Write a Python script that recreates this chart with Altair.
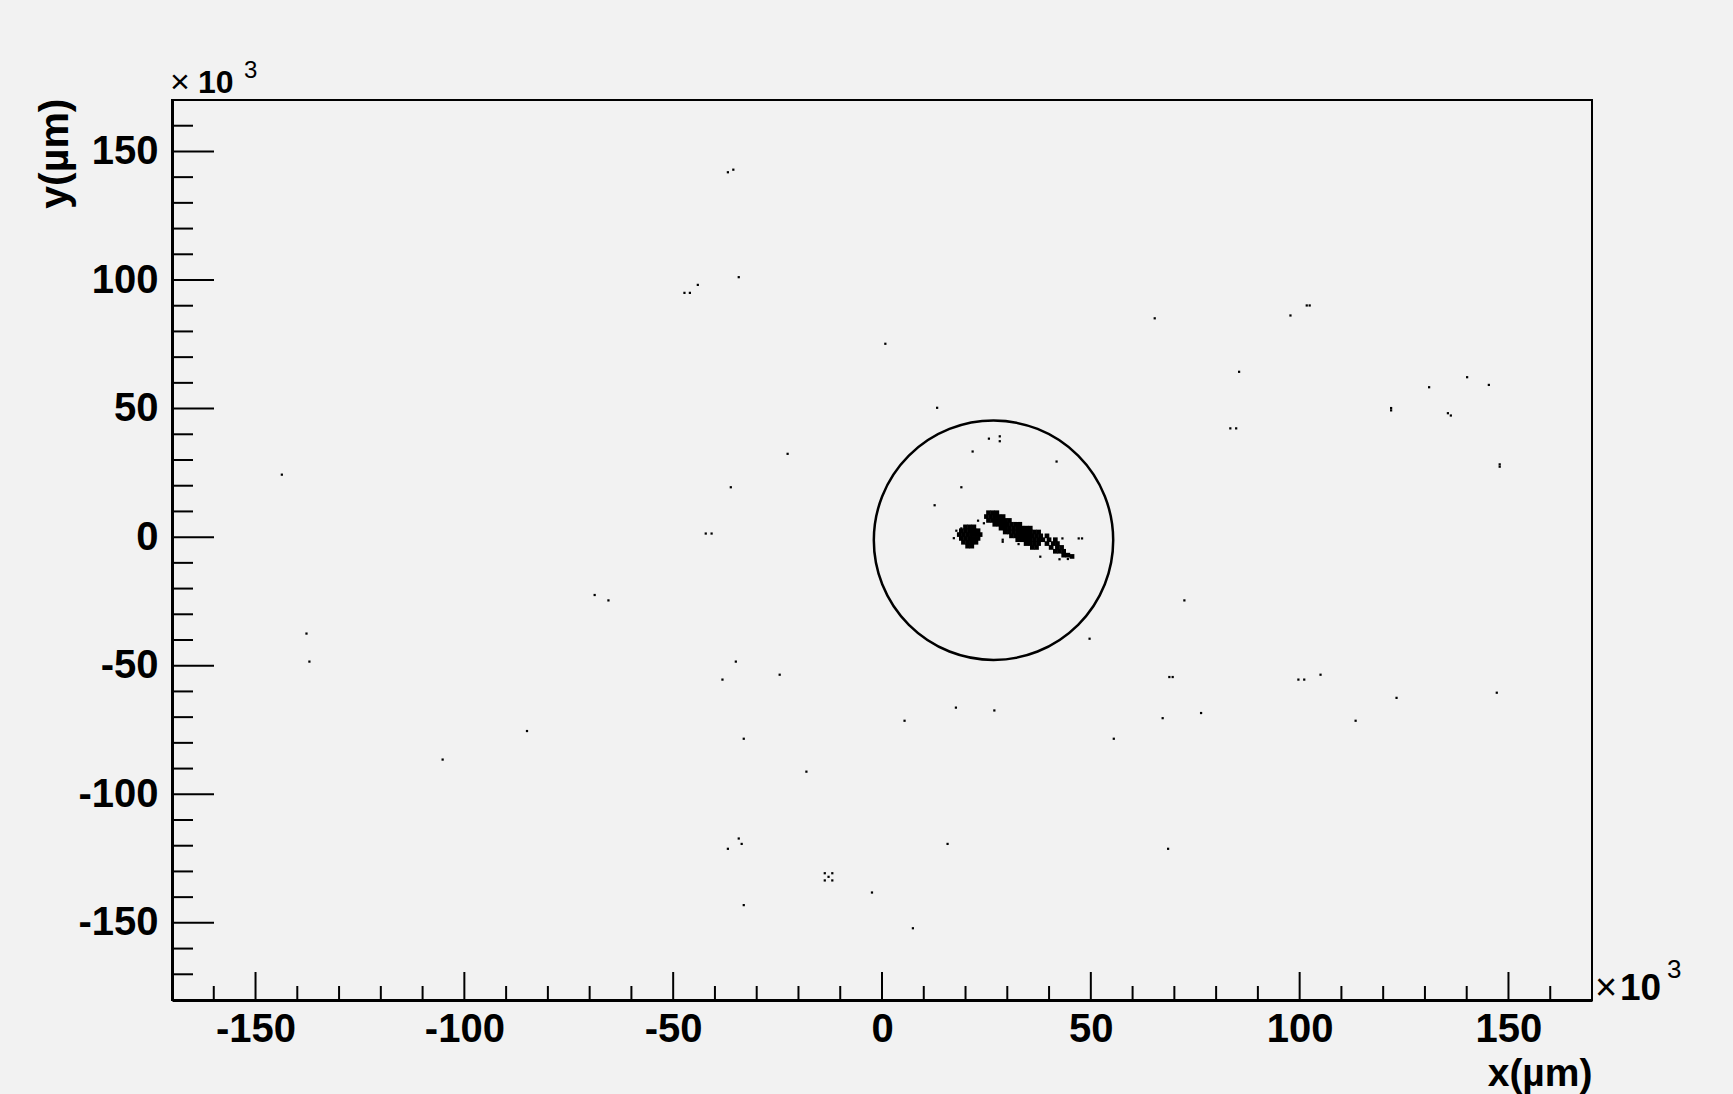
import altair as alt
import pandas as pd

# ---------------- data (units: 10^3 µm) ----------------
x_domain = [-170, 170]
y_domain = [-180, 170]

major_ticks_x = [-150, -100, -50, 0, 50, 100, 150]
minor_ticks_x = [-160, -140, -130, -120, -110, -90, -80, -70, -60, -40, -30, -20, -10,
                 10, 20, 30, 40, 60, 70, 80, 90, 110, 120, 130, 140, 160]
major_ticks_y = [-150, -100, -50, 0, 50, 100, 150]
minor_ticks_y = [-170, -160, -140, -130, -120, -110, -90, -80, -70, -60, -40, -30, -20, -10,
                 10, 20, 30, 40, 60, 70, 80, 90, 110, 120, 130, 140, 160]

# isolated hits
hit_x = [-143.7, -36.9, -35.6, -34.3, -44.1, -47.3, -46.0, 0.8, 13.2, -22.6,
         -36.2, -42.2, -40.8, 25.6, 28.2, 28.2, 21.7, 41.8, 19.0, 12.6,
         65.3, 97.8, 101.7, 102.4, 85.5, 83.4, 84.8, 121.9, 121.9, 131.0,
         135.5, 136.2, 140.1, 145.3, 147.9, 147.9, -137.8, -137.1, -105.2, -85.0,
         -68.8, -65.5, 49.7, -35.0, -38.2, -24.5, 17.7, 26.9, 5.4, -33.1,
         55.5, -18.1, -34.3, -33.6, -36.9, 15.7, -12.8, -13.7, -11.9, -13.7,
         -11.9, -2.4, -33.1, 7.4, 72.4, 68.8, 69.6, 67.2, 76.4, 68.5,
         99.7, 101.1, 105.0, 113.4, 123.2, 147.2,
         23.0, 24.4, 28.9, 28.9, 32.7, 37.9, 42.5, 44.5, 43.2, 47.1,
         47.9, 36.7, 17.8, 19.0, 19.8, 17.2]
hit_y = [24.3, 141.9, 142.9, 101.1, 98.1, 95.0, 95.0, 75.2, 50.3, 32.4,
         19.4, 1.4, 1.4, 38.3, 39.2, 37.3, 33.3, 29.4, 19.4, 12.4,
         85.1, 86.2, 90.1, 90.1, 64.3, 42.3, 42.3, 50.2, 49.3, 58.3,
         48.2, 47.3, 62.2, 59.2, 28.3, 27.4, -37.5, -48.4, -86.5, -75.4,
         -22.5, -24.6, -39.5, -48.4, -55.4, -53.5, -66.3, -67.4, -71.4, -78.4,
         -78.4, -91.2, -117.2, -119.3, -121.2, -119.3, -132.1, -130.7, -130.7, -133.5,
         -133.5, -138.2, -143.1, -152.1, -24.6, -54.4, -54.4, -70.4, -68.4, -121.2,
         -55.4, -55.4, -53.5, -71.4, -62.5, -60.5,
         6.4, 5.4, -1.0, -1.8, -2.7, -7.6, -8.6, -8.5, -0.5, -0.5,
         -0.5, 2.1, 2.5, 3.4, 4.2, -0.4]

# dense cluster (beam spot and track)
cluster_x = [20.0, 21.0, 22.0,
             19.0, 20.0, 21.0, 22.0, 23.0,
             18.5, 19.5, 20.5, 21.5, 22.5, 23.5,
             19.0, 20.0, 21.0, 22.0, 23.0,
             19.5, 20.5, 21.5, 22.5,
             20.5, 21.5,
             25.5, 26.5, 27.5,
             25.0, 26.0, 27.0, 28.0, 29.0,
             25.5, 26.5, 27.5, 28.5, 29.5, 30.5,
             27.0, 28.0, 29.0, 30.0, 31.0, 32.0, 33.0,
             28.5, 29.5, 30.5, 31.5, 32.5, 33.5, 34.5, 35.5,
             29.5, 30.5, 31.5, 32.5, 33.5, 34.5, 35.5, 36.5, 37.5,
             31.0, 32.0, 33.0, 34.0, 35.0, 36.0, 37.0, 38.0, 39.5,
             32.5, 33.5, 34.5, 35.5, 36.5, 37.5, 38.5, 40.0, 41.5,
             34.5, 35.5, 36.5, 37.5, 39.5, 41.0, 42.0,
             36.0, 37.0, 40.5, 42.0, 43.0,
             41.5, 42.5, 43.5,
             43.5, 44.5, 45.5]
cluster_y = [4.0, 4.0, 4.0,
             2.5, 2.5, 2.5, 2.5, 2.5,
             1.0, 1.0, 1.0, 1.0, 1.0, 1.0,
             -0.5, -0.5, -0.5, -0.5, -0.5,
             -2.0, -2.0, -2.0, -2.0,
             -3.5, -3.5,
             9.5, 9.5, 9.5,
             8.0, 8.0, 8.0, 8.0, 8.0,
             6.5, 6.5, 6.5, 6.5, 6.5, 6.5,
             5.0, 5.0, 5.0, 5.0, 5.0, 5.0, 5.0,
             3.5, 3.5, 3.5, 3.5, 3.5, 3.5, 3.5, 3.5,
             2.0, 2.0, 2.0, 2.0, 2.0, 2.0, 2.0, 2.0, 2.0,
             0.5, 0.5, 0.5, 0.5, 0.5, 0.5, 0.5, 0.5, 0.5,
             -1.0, -1.0, -1.0, -1.0, -1.0, -1.0, -1.0, -1.0, -1.0,
             -2.5, -2.5, -2.5, -2.5, -2.5, -2.5, -2.5,
             -4.0, -4.0, -4.0, -4.0, -4.0,
             -5.5, -5.5, -5.5,
             -7.0, -7.0, -7.5]

# region-of-interest circle centre
roi_x = [26.7]
roi_y = [-1.2]

x_title = "x(µm)"
y_title = "y(µm)"

# ---------------- chart ----------------
W, H = 1420, 900
FONT = "Liberation Sans"
xs = alt.Scale(domain=x_domain, nice=False, zero=False)
ys = alt.Scale(domain=y_domain, nice=False, zero=False)
neg_expr = "datum.value < 0 ? '-' + abs(datum.value) : '' + datum.value"

x_axis = alt.Axis(values=major_ticks_x, labelExpr=neg_expr, ticks=False, tickSize=0,
                  domain=True, domainColor="black", domainWidth=3, grid=False,
                  labelFont=FONT, labelFontWeight="bold", labelFontSize=40, labelColor="black",
                  labelPadding=9, labelFlush=False, labelOverlap=False,
                  title=x_title, titleFont=FONT, titleFontWeight="bold", titleFontSize=39,
                  titleColor="black", titleAnchor="end", titleAlign="right",
                  titleBaseline="alphabetic", titleX=W, titleY=85)
y_axis = alt.Axis(values=major_ticks_y, labelExpr=neg_expr, ticks=False, tickSize=0,
                  domain=True, domainColor="black", domainWidth=3, grid=False,
                  labelFont=FONT, labelFontWeight="bold", labelFontSize=40, labelColor="black",
                  labelPadding=14, labelFlush=False, labelOverlap=False,
                  title=y_title, titleFont=FONT, titleFontWeight="bold", titleFontSize=41,
                  titleColor="black", titleAngle=-90, titleAnchor="end", titleAlign="right",
                  titleBaseline="alphabetic", titleX=-105, titleY=-2)

X = alt.X("x:Q", scale=xs, axis=x_axis)
Y = alt.Y("y:Q", scale=ys, axis=y_axis)

hits_df = pd.DataFrame({"x": hit_x, "y": hit_y})
cluster_df = pd.DataFrame({"x": cluster_x, "y": cluster_y})
roi_df = pd.DataFrame({"x": roi_x, "y": roi_y})

hits = alt.Chart(hits_df).mark_square(size=5, color="black", opacity=1).encode(x=X, y=Y)
cluster = alt.Chart(cluster_df).mark_square(size=22, color="black", opacity=1).encode(x=X, y=Y)
roi = alt.Chart(roi_df).mark_point(shape="circle", filled=False, size=57300,
                                   color="black", strokeWidth=2.5, opacity=1).encode(x=X, y=Y)

def xticks(vals, length):
    return alt.Chart(pd.DataFrame({"x": vals})).mark_rule(color="black", strokeWidth=2).encode(
        x=X, y=alt.value(H), y2=alt.value(H - length))

def yticks(vals, length):
    return alt.Chart(pd.DataFrame({"y": vals})).mark_rule(color="black", strokeWidth=2).encode(
        y=Y, x=alt.value(0), x2=alt.value(length))

# "×10³" exponent labels anchored at plot corners
tl = pd.DataFrame({"x": [x_domain[0]], "y": [y_domain[1]]})
br = pd.DataFrame({"x": [x_domain[1]], "y": [y_domain[0]]})

def label(df, text, size, weight, dx, dy):
    return alt.Chart(df).mark_text(text=text, font=FONT, fontSize=size, fontWeight=weight,
                                   color="black", align="left", baseline="alphabetic",
                                   dx=dx, dy=dy).encode(x=X, y=Y)

chart = alt.layer(
    hits, cluster, roi,
    xticks(major_ticks_x, 28), xticks(minor_ticks_x, 14),
    yticks(major_ticks_y, 42), yticks(minor_ticks_y, 21),
    label(tl, "×", 34, "normal", -2, -7),
    label(tl, "10", 32, "bold", 26, -7),
    label(tl, "3", 24, "normal", 72, -22),
    label(br, "×", 38, "normal", 3, 0),
    label(br, "10", 37, "bold", 28, 0),
    label(br, "3", 26, "normal", 75, -22),
).properties(
    width=W, height=H,
    autosize=alt.AutoSizeParams(type="none"),
    padding={"left": 172, "top": 100, "right": 141, "bottom": 94},
    background="#f2f2f2",
).configure_view(stroke="black", strokeWidth=2)

chart.save("out.html", embed_options={"renderer": "svg", "actions": False})
